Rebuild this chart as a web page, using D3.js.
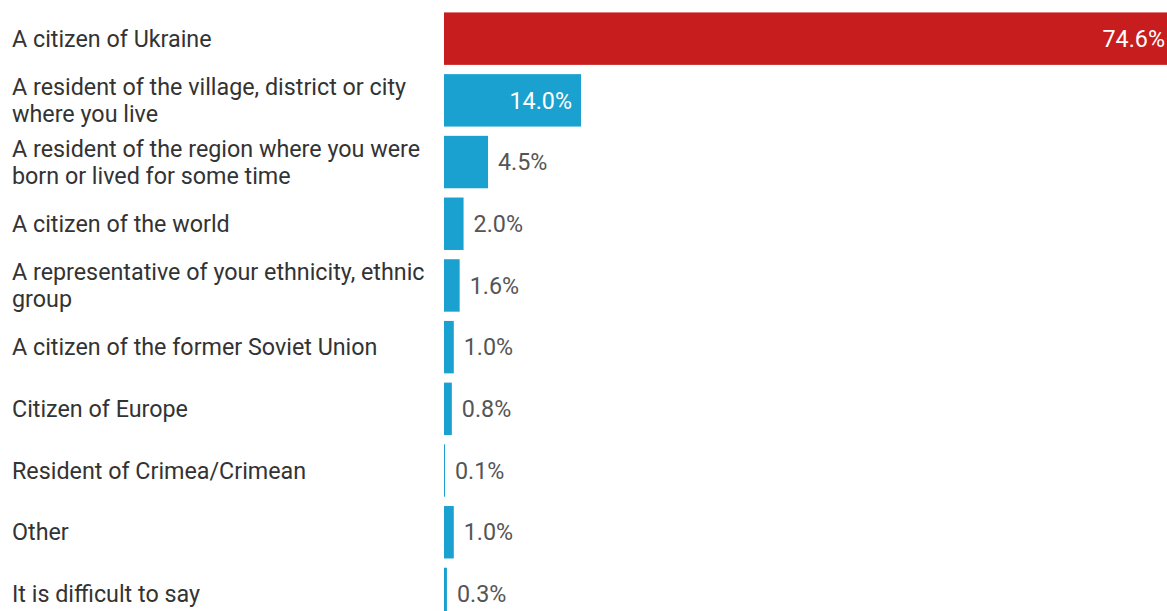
<!DOCTYPE html>
<html>
<head>
<meta charset="utf-8">
<script src="https://cdn.jsdelivr.net/npm/d3@7"></script>
<style>
  html, body { margin: 0; padding: 0; background: #fff; overflow: hidden; }
  svg { display: block; font-family: Roboto, "Noto Sans", sans-serif; }
</style>
</head>
<body>
<svg id="chart" width="1167" height="611"></svg>
<script>
// Self-identification survey shares, in percent
const categories = [
  "A citizen of Ukraine",
  "A resident of the village, district or city where you live",
  "A resident of the region where you were born or lived for some time",
  "A citizen of the world",
  "A representative of your ethnicity, ethnic group",
  "A citizen of the former Soviet Union",
  "Citizen of Europe",
  "Resident of Crimea/Crimean",
  "Other",
  "It is difficult to say"
];
const values = [74.6, 14.0, 4.5, 2.0, 1.6, 1.0, 0.8, 0.1, 1.0, 0.3];
const valueLabels = ["74.6%", "14.0%", "4.5%", "2.0%", "1.6%", "1.0%", "0.8%", "0.1%", "1.0%", "0.3%"];
const highlight = "A citizen of Ukraine";

const W = 1167, H = 611;
const barLeft = 444;
const barRight = 1174;   // the longest bar runs slightly past the right edge
const step = 61.7;
const y0 = 7.8;
const fontSize = 23.3;

const svg = d3.select("#chart");

const x = d3.scaleLinear().domain([0, d3.max(values)]).range([barLeft, barRight]);
const y = d3.scaleBand()
  .domain(categories)
  .range([y0, y0 + step * categories.length])
  .paddingInner(0.15)
  .paddingOuter(0.075);

const rows = svg.selectAll("g.row")
  .data(categories.map((c, i) => ({ c, v: values[i], lbl: valueLabels[i] })))
  .join("g")
  .attr("class", "row");

rows.append("rect")
  .attr("x", x(0))
  .attr("y", d => y(d.c))
  .attr("width", d => Math.max(1, x(d.v) - x(0)))
  .attr("height", y.bandwidth())
  .attr("fill", d => d.c === highlight ? "#c71d1e" : "#1ba1cf");

// Category labels, wrapped to the label column width
const maxLabelWidth = 425;
rows.each(function(d) {
  const g = d3.select(this);
  const t = g.append("text")
    .attr("x", 12)
    .attr("font-size", fontSize)
    .attr("fill", "#333");
  const words = d.c.split(" ");
  const lines = [];
  let line = [];
  const probe = t.append("tspan");
  words.forEach(w => {
    line.push(w);
    probe.text(line.join(" "));
    if (probe.node().getComputedTextLength() > maxLabelWidth && line.length > 1) {
      line.pop();
      lines.push(line.join(" "));
      line = [w];
    }
  });
  lines.push(line.join(" "));
  probe.remove();
  const lh = 27;
  const cy = y(d.c) + y.bandwidth() / 2;
  lines.forEach((ln, i) => {
    t.append("tspan")
      .attr("x", 12)
      .attr("y", cy + (i - (lines.length - 1) / 2) * lh)
      .attr("dy", "0.35em")
      .text(ln);
  });
});

// Value labels: inside the bar when it is wide enough, otherwise just after it
rows.append("text")
  .attr("font-size", fontSize)
  .attr("dy", "0.35em")
  .attr("y", d => y(d.c) + y.bandwidth() / 2)
  .each(function(d) {
    const t = d3.select(this);
    const wBar = x(d.v) - x(0);
    if (wBar > 80) {
      t.attr("x", x(d.v) - 9).attr("text-anchor", "end").attr("fill", "#fff");
    } else {
      t.attr("x", x(d.v) + 10).attr("text-anchor", "start").attr("fill", "#555");
    }
  })
  .text(d => d.lbl);
</script>
</body>
</html>
